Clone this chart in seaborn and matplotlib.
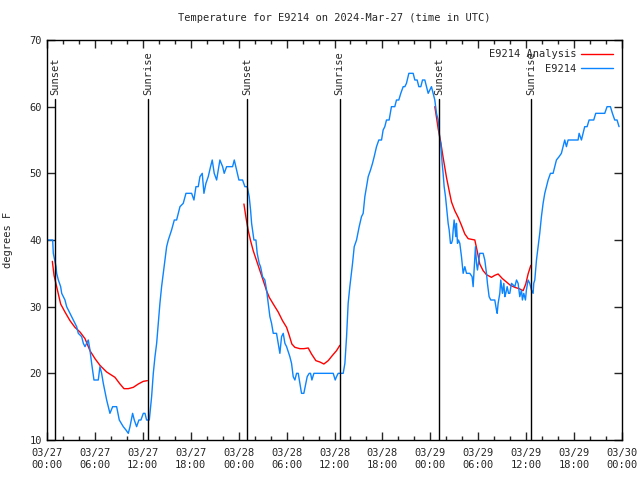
"""
Temperature for E9214, 2024-Mar-27 (time in UTC)
observations (blue) vs analysis (red), sunset/sunrise marks
"""
import numpy as np
import pandas as pd
import matplotlib
matplotlib.use('Agg')
import matplotlib.pyplot as plt
import matplotlib.dates as mdates
from matplotlib.ticker import MultipleLocator
import seaborn as sns

sns.set_style('ticks')
plt.rcParams['font.family'] = ['DejaVu Sans Mono', 'DejaVu Sans']

start = pd.Timestamp('2024-03-27 00:00')

# observations (hours after 03/27 00:00 UTC, deg F)
obs_hours = [0.04, 0.71, 0.79, 1.13, 1.21, 1.42, 1.71, 1.84, 2.25, 2.46, 2.88, 3.30, 3.71, 3.92,
             4.34, 4.55, 4.76, 4.96, 5.17, 5.38, 5.59, 5.88, 6.42, 6.63, 6.84, 7.05, 7.47, 7.88,
             8.22, 8.72, 9.05, 9.55, 9.89, 10.18, 10.39, 10.72, 10.93, 11.22, 11.51, 11.76, 12.06,
             12.27, 12.47, 12.81, 13.10, 13.31, 13.52, 13.73, 13.93, 14.14, 14.35, 14.56, 14.77,
             14.98, 15.19, 15.60, 15.94, 16.23, 16.44, 16.65, 17.06, 17.40, 18.11, 18.40, 18.65,
             18.94, 19.15, 19.44, 19.65, 19.90, 20.19, 20.48, 20.69, 20.94, 21.24, 21.65, 21.99,
             22.19, 22.49, 23.24, 23.45, 23.74, 24.03, 24.49, 24.78, 25.07,
             25.32, 25.49, 25.62, 25.74, 25.91, 26.16, 26.32, 26.57, 26.74, 26.99, 27.28, 27.49,
             27.70, 27.91, 28.12, 28.33, 28.74, 28.95, 29.16, 29.37, 29.58, 29.79, 30.00, 30.41,
             30.62, 30.83, 31.04, 31.25, 31.46, 31.66, 31.87, 32.16, 32.42, 32.58, 32.83, 33.00,
             33.17, 33.42, 35.84, 36.09, 36.25, 36.46, 37.09, 37.30, 37.51, 37.71, 37.92, 38.26,
             38.47, 38.76, 39.09, 39.38, 39.59, 39.80, 40.01, 40.22, 40.51, 40.76, 40.97, 41.26,
             41.55, 41.89, 42.09, 42.30, 42.51, 42.84, 43.13, 43.55, 43.76, 44.05, 44.30, 44.60,
             44.81, 45.01, 45.31, 45.64, 45.85, 46.06, 46.35, 46.56, 46.81, 47.02, 47.31, 47.52,
             47.73, 47.93, 48.14, 48.35, 48.56, 48.77, 48.98,
             49.10, 49.19, 49.31, 49.40, 49.48, 49.60, 49.73, 49.90, 50.11, 50.23, 50.36, 50.52,
             50.65, 50.77, 50.86, 50.98, 51.11, 51.19, 51.27, 51.40, 51.52, 51.69, 51.90, 52.03,
             52.11, 52.32, 52.53, 52.94, 53.23, 53.36, 53.48, 53.65, 53.78, 53.90, 54.07, 54.19,
             54.61, 54.82, 55.03, 55.15, 55.36, 55.57, 56.07, 56.28, 56.37, 56.49, 56.70, 56.82,
             57.03, 57.20, 57.33, 57.45, 57.62, 57.79, 57.95, 58.16, 58.58, 58.79, 58.99, 59.20,
             59.41, 59.53, 59.70, 59.91, 60.03, 60.24, 60.45, 60.66, 60.87, 60.95, 61.08, 61.29,
             61.49, 61.70, 61.91, 62.12, 62.33, 62.54, 62.75, 63.04, 63.37, 63.58, 63.79, 64.12,
             64.41, 64.62, 64.83, 65.04, 65.25, 66.50, 66.63, 66.92, 67.13, 67.33, 67.63, 67.88,
             68.46, 68.71, 69.84, 70.13, 70.55, 70.80, 71.09, 71.38, 71.63]
obs_temp = [40, 40, 38, 36, 35, 34, 33, 32, 31, 30, 29, 28, 27, 26,
            25.5, 24.5, 24, 24.5, 25, 23.5, 21.5, 19, 19, 21, 20, 18.5, 16, 14,
            15, 15, 13, 12, 11.5, 11, 12, 14, 13, 12, 13, 13, 14,
            14, 13, 13, 16.5, 20, 22.5, 24.5, 27.5, 30.5, 33, 35, 37,
            39, 40, 41.5, 43, 43, 44, 45, 45.5, 47, 47, 46, 48,
            48, 49.5, 50, 47, 48.5, 49.5, 51, 52, 50, 49, 52, 51,
            50, 51, 51, 52, 50.5, 49, 49, 48, 48,
            46.5, 44.5, 42.5, 41.5, 40, 40, 38, 36.5, 36, 34.5, 34, 32.5,
            30.5, 28.5, 27.5, 26, 26, 24.5, 23, 25.5, 26, 24.5, 24, 22.5,
            21.5, 19.5, 19, 20, 20, 18.5, 17, 17, 18.5, 19.5, 20, 20,
            19, 20, 20, 19, 19.5, 20, 20, 21.5, 25.5, 30.5, 33, 36.5,
            39, 40, 42, 43.5, 44, 46.5, 48, 49.5, 50.5, 51.5, 52.5, 54,
            55, 55, 56.5, 57, 58, 58, 60, 60, 61, 61, 62, 63,
            63, 63.5, 65, 65, 65, 64, 64, 63, 63, 64, 64, 63,
            62, 62.5, 63, 62, 61, 59, 58,
            56.5, 55, 54.5, 53, 51.5, 50, 48, 46.5, 44, 42.5, 41.5, 39.5,
            39.5, 40, 41.5, 43, 41.5, 40.5, 42.5, 39.5, 40, 39.5, 37.5, 36,
            35, 36, 35, 35, 34.5, 33, 35.5, 39, 36.5, 35.5, 37, 38,
            38, 37, 35, 33.5, 31.5, 31, 31, 29.5, 29, 30.5, 32, 34,
            32, 33.5, 31.5, 32, 33, 32, 32, 33.5, 33, 34, 33.5, 31.5,
            32.5, 31, 32, 31, 32.5, 34, 33.5, 32.5, 32, 33.5, 34, 37,
            39, 41, 43.5, 45.5, 47, 48, 49, 50, 50, 51, 52, 52.5,
            53, 54, 55, 54, 55, 55, 56, 55, 56, 57, 57, 58,
            58, 59, 59, 60, 60, 59, 58, 58, 57]

# analysis, one piece per night
ana_night = [1] * 22 + [2] * 28 + [3] * 30
ana_hours = [0.67, 0.88, 1.13, 1.42, 1.71, 2.25, 2.88, 3.50, 4.13, 4.76, 5.38, 6.01, 6.63,
             7.47, 8.51, 9.14, 9.64, 10.18, 10.81, 11.43, 12.06, 12.56,
             24.66, 24.91, 25.20, 25.49, 25.82, 26.24, 26.66, 27.08, 27.49, 27.83, 28.33, 28.95,
             29.49, 30.00, 30.33, 30.66, 31.04, 31.66, 32.16, 32.71, 33.12, 33.67, 34.17, 34.67,
             35.21, 35.75, 36.25, 36.67,
             48.56, 48.77, 48.98, 49.27, 49.60, 50.02, 50.44, 50.65, 51.06, 51.48, 51.90, 52.32,
             52.74, 53.57, 53.86, 54.19, 54.61, 55.03, 55.65, 56.07, 56.49, 57.03, 57.53, 58.03,
             58.58, 59.12, 59.62, 59.95, 60.24, 60.58]
ana_temp = [36.8, 34.7, 33.4, 31.9, 30.4, 29.2, 27.9, 26.9, 26.2, 25.2, 23.4, 22.2, 21.2,
            20.2, 19.4, 18.4, 17.7, 17.7, 17.9, 18.4, 18.8, 18.9,
            45.4, 43.4, 41.4, 39.9, 38.4, 36.9, 35.4, 33.9, 32.4, 31.4, 30.4, 29.2,
            27.9, 26.9, 25.7, 24.4, 23.9, 23.7, 23.7, 23.8, 22.9, 21.9, 21.7, 21.4,
            21.9, 22.7, 23.4, 24.2,
            60.0, 58.4, 56.7, 54.9, 52.4, 49.4, 46.9, 45.7, 44.4, 43.4, 42.2, 40.9,
            40.2, 40.0, 38.4, 36.4, 35.4, 34.8, 34.4, 34.7, 34.9, 34.2, 33.7, 33.2,
            32.9, 32.7, 32.4, 33.4, 34.9, 36.2]

sun_labels = ['Sunset', 'Sunrise', 'Sunset', 'Sunrise', 'Sunset', 'Sunrise']
sun_times = ['2024-03-27 01:02', '2024-03-27 12:41', '2024-03-28 01:04',
             '2024-03-28 12:39', '2024-03-29 01:05', '2024-03-29 12:37']

obs = pd.DataFrame({'time': start + pd.to_timedelta(obs_hours, unit='h'), 'temp': obs_temp})
ana = pd.DataFrame({'time': start + pd.to_timedelta(ana_hours, unit='h'), 'temp': ana_temp,
                    'night': ana_night})

fig = plt.figure(figsize=(6.4, 4.8), dpi=100)
ax = fig.add_axes([47 / 640, 40 / 480, 575 / 640, 400 / 480])

sns.lineplot(data=ana, x='time', y='temp', units='night', estimator=None, color='#ff0000',
             linewidth=1.0, ax=ax)
sns.lineplot(data=obs, x='time', y='temp', color='#0a84ff', linewidth=1.0, ax=ax)

for lab, t in zip(sun_labels, sun_times):
    t = pd.Timestamp(t)
    ax.plot([t, t], [10, 61.2], color='black', linewidth=1.0)
    ax.text(t, 61.8, lab, rotation=90, ha='center', va='bottom', fontsize=7.5)

ax.set_xlim(start, start + pd.Timedelta(hours=72))
ax.set_ylim(10, 70)
ax.xaxis.set_major_locator(mdates.HourLocator(byhour=[0, 6, 12, 18]))
ax.xaxis.set_minor_locator(mdates.HourLocator(byhour=range(0, 24, 2)))
ax.xaxis.set_major_formatter(mdates.DateFormatter('%m/%d\n%H:%M'))
ax.yaxis.set_major_locator(MultipleLocator(10))
ax.tick_params(which='both', direction='in', top=True, right=True, labelsize=7.5, width=1)
ax.tick_params(which='major', length=6)
ax.tick_params(which='minor', length=3)
ax.tick_params(axis='x', pad=6)
for s in ax.spines.values():
    s.set_linewidth(1.0)
    s.set_color('black')

ax.set_xlabel('')
ax.set_ylabel('degrees F', fontsize=7.5, labelpad=12)
ax.set_title('Temperature for E9214 on 2024-Mar-27 (time in UTC)', fontsize=7.5, pad=14)

# one legend entry per series (the analysis pieces share one)
red_line = ax.lines[0]
blue_line = ax.lines[3]
ax.legend([red_line, blue_line], ['E9214 Analysis', 'E9214'], loc='upper right', frameon=False,
          markerfirst=False, fontsize=7.5, handlelength=3.0, borderaxespad=0.6,
          borderpad=0.3, labelspacing=0.45, handletextpad=0.5)

plt.savefig('out.png', dpi=100)
